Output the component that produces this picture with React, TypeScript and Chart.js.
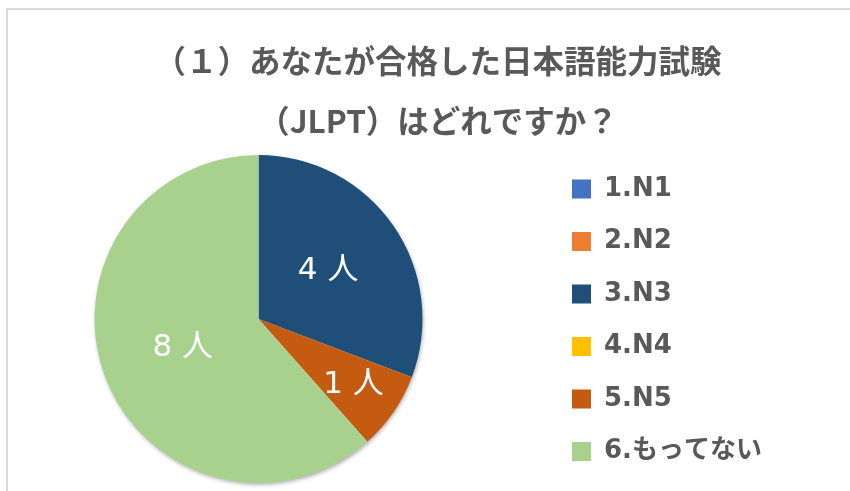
import React, { useEffect, useRef } from 'react';
import { Chart, registerables, layouts } from 'chart.js';

Chart.register(...registerables);

// ---- data ----
const categories = ['1.N1', '2.N2', '3.N3', '4.N4', '5.N5', '6.もってない'];
const counts = [0, 0, 4, 0, 1, 8];
const sliceColors = ['#4472C4', '#ED7D31', '#1F4E79', '#FFC000', '#C55A11', '#A9D18E'];
const titleLines = ['（１）あなたが合格した日本語能力試験', '（JLPT）はどれですか？'];
const unitLabel = '人';

const TEXT_COLOR = '#595959';
const LATIN_JP = '"DejaVu Sans", "Noto Sans CJK JP", sans-serif';
const LEGEND_LEFT = 545.5;

function makeSpacer(position: string, weight: number, size: (chart: any) => number, chart: any) {
  return {
    position,
    weight,
    fullSize: false,
    options: { display: false },
    left: 0, top: 0, right: 0, bottom: 0, width: 0, height: 0,
    isHorizontal() {
      return position === 'top' || position === 'bottom';
    },
    update(maxWidth: number, maxHeight: number) {
      const s = size(chart);
      if (this.isHorizontal()) {
        this.width = maxWidth;
        this.height = s;
      } else {
        this.width = s;
        this.height = maxHeight;
      }
    },
    draw() {},
  };
}

const spacerPlugin = {
  id: 'spacers',
  beforeInit(chart: any) {
    layouts.addBox(chart, makeSpacer('left', 100, () => 68.5, chart) as any);
    layouts.addBox(chart, makeSpacer('right', 500, () => 123, chart) as any);
    layouts.addBox(
      chart,
      makeSpacer('right', 1500, (c: any) => Math.max(0, c.width - LEGEND_LEFT - (c.legend ? c.legend.width : 0)), chart) as any
    );
  },
};

const framePlugin = {
  id: 'frame',
  beforeDraw(chart: any) {
    const { ctx, width, height } = chart;
    ctx.save();
    ctx.fillStyle = '#d9d9d9';
    ctx.fillRect(6, 8, width - 6, 2);
    ctx.fillRect(6, 8, 2, height - 8);
    ctx.restore();
  },
};

const shadowPlugin = {
  id: 'pieShadow',
  beforeDatasetsDraw(chart: any) {
    const meta = chart.getDatasetMeta(0);
    const el = meta.data[0];
    if (!el) return;
    const { ctx } = chart;
    ctx.save();
    ctx.shadowColor = 'rgba(0,0,0,0.35)';
    ctx.shadowBlur = 4;
    ctx.shadowOffsetX = 1;
    ctx.shadowOffsetY = 2;
    ctx.fillStyle = '#ffffff';
    ctx.beginPath();
    ctx.arc(el.x, el.y, el.outerRadius - 0.5, 0, Math.PI * 2);
    ctx.fill();
    ctx.restore();
  },
};

const sliceLabelPlugin = {
  id: 'sliceLabels',
  afterDatasetsDraw(chart: any, _args: any, opts: any) {
    const meta = chart.getDatasetMeta(0);
    const { ctx } = chart;
    const data = chart.data.datasets[0].data as number[];
    ctx.save();
    ctx.fillStyle = '#ffffff';
    ctx.font = `31px ${LATIN_JP}`;
    ctx.textAlign = 'center';
    ctx.textBaseline = 'middle';
    meta.data.forEach((el: any, i: number) => {
      const v = data[i];
      if (!v) return;
      const mid = (el.startAngle + el.endAngle) / 2;
      const r = el.outerRadius * (opts.radius[i] ?? 0.6);
      ctx.fillText(`${v} ${unitLabel}`, el.x + Math.cos(mid) * r, el.y + Math.sin(mid) * r);
    });
    ctx.restore();
  },
};

export default function App() {
  const ref = useRef<HTMLCanvasElement>(null);

  useEffect(() => {
    if (!ref.current) return;
    const chart = new Chart(ref.current, {
      type: 'pie',
      data: {
        labels: categories,
        datasets: [
          {
            data: counts,
            backgroundColor: sliceColors,
            borderWidth: 0,
            hoverBorderWidth: 0,
            offset: 0,
            hoverOffset: 0,
            spacing: 0,
          } as any,
        ],
      },
      options: {
        responsive: false,
        animation: false,
        events: [],
        layout: { padding: { left: 26, right: 0, top: 0, bottom: 0 } },
        plugins: {
          title: {
            display: true,
            text: titleLines,
            color: TEXT_COLOR,
            fullSize: true,
            font: { family: '"Noto Sans CJK JP", sans-serif', size: 31.5, weight: 'bold', lineHeight: '60px' },
            padding: { top: 31, bottom: -4 },
          },
          legend: {
            display: true,
            position: 'right',
            align: 'end',
            fullSize: false,
            weight: 1000,
            labels: {
              boxWidth: 19,
              boxHeight: 19,
              padding: 26.5,
              color: TEXT_COLOR,
              font: { family: LATIN_JP, size: 26, weight: 'bold' },
            },
          } as any,
          tooltip: { enabled: false },
          sliceLabels: { radius: [0.5, 0.5, 0.516, 0.5, 0.704, 0.494] },
        } as any,
      },
      plugins: [framePlugin, spacerPlugin, shadowPlugin, sliceLabelPlugin],
    });
    return () => chart.destroy();
  }, []);

  return (
    <div style={{ position: 'fixed', left: 0, top: 0, width: 850, height: 491, background: '#ffffff' }}>
      <canvas ref={ref} width={850} height={491} style={{ display: 'block', width: 850, height: 491 }} />
    </div>
  );
}
